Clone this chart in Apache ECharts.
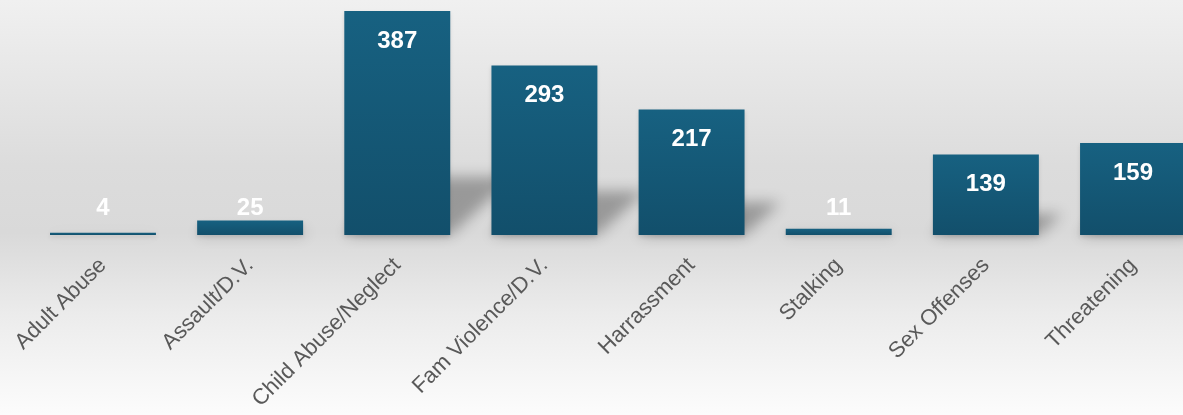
<!DOCTYPE html>
<html><head><meta charset="utf-8">
<script src="https://cdn.jsdelivr.net/npm/echarts@6/dist/echarts.min.js"></script>
<style>html,body{margin:0;padding:0;background:#fff;overflow:hidden;} #c{width:1183px;height:415px;}</style>
</head><body><div id="c"></div>
<script>
const categories = ['Adult Abuse', 'Assault/D.V.', 'Child Abuse/Neglect', 'Fam Violence/D.V.', 'Harrassment', 'Stalking', 'Sex Offenses', 'Threatening'];
const counts = [4, 25, 387, 293, 217, 11, 139, 159];

const chart = echarts.init(document.getElementById('c'), null, { renderer: 'canvas' });
const SHIFT = 3000;
const BAR_RATIO = 0.72;

const barGradient = new echarts.graphic.LinearGradient(0, 0, 0, 1, [
  { offset: 0, color: '#176181' },
  { offset: 1, color: '#124f6b' }
]);

const option = {
  animation: false,
  backgroundColor: {
    type: 'linear', x: 0, y: 0, x2: 0, y2: 1,
    colorStops: [
      { offset: 0, color: '#f0f0f0' },
      { offset: 0.4, color: '#dcdcdc' },
      { offset: 0.56, color: '#d9d9d9' },
      { offset: 0.75, color: '#ebebeb' },
      { offset: 1, color: '#fcfcfc' }
    ]
  },
  grid: { left: 29.4, width: 1177.2, top: 11, bottom: 180, containLabel: false, outerBoundsMode: 'none' },
  xAxis: {
    type: 'category',
    data: categories,
    axisLine: { show: false },
    axisTick: { show: false },
    splitLine: { show: false },
    axisLabel: {
      interval: 0, rotate: 45, margin: 27,
      color: '#595959', fontSize: 22, fontFamily: 'Liberation Sans'
    }
  },
  yAxis: { type: 'value', min: 0, max: 387, show: false, splitLine: { show: false } },
  series: [
    {
      type: 'custom',
      z: 1,
      clip: false,
      silent: true,
      encode: { x: 0, y: 1 },
      data: counts.map((v, i) => [i, v]),
      renderItem: function (params, api) {
        const i = api.value(0), v = api.value(1);
        const base = api.coord([i, 0]);
        const top = api.coord([i, v]);
        const bw = api.size([1, 0])[0] * BAR_RATIO;
        const h = (base[1] - top[1]) * 0.26;
        const skew = h * 1.1;
        const x0 = base[0] - bw / 2, x1 = base[0] + bw / 2, y0 = base[1];
        return {
          type: 'polygon',
          shape: { points: [[x0 - SHIFT, y0], [x1 - SHIFT, y0], [x1 + skew - SHIFT, y0 - h], [x0 + skew - SHIFT, y0 - h]] },
          style: { fill: '#000', shadowColor: 'rgba(0,0,0,0.3)', shadowBlur: 14, shadowOffsetX: SHIFT, shadowOffsetY: 0 }
        };
      }
    },
    {
      type: 'bar',
      z: 2,
      barWidth: (BAR_RATIO * 100) + '%',
      data: counts.map(v => (v < 50 ? { value: v, label: { position: 'insideBottom', distance: 15 } } : v)),
      itemStyle: { color: barGradient, shadowColor: 'rgba(0,0,0,0.12)', shadowBlur: 4, shadowOffsetY: 2 },
      label: {
        show: true, position: 'insideTop', distance: 18,
        color: '#ffffff', fontWeight: 'bold', fontSize: 24, fontFamily: 'Liberation Sans'
      }
    }
  ]
};
chart.setOption(option);
</script>
</body></html>
